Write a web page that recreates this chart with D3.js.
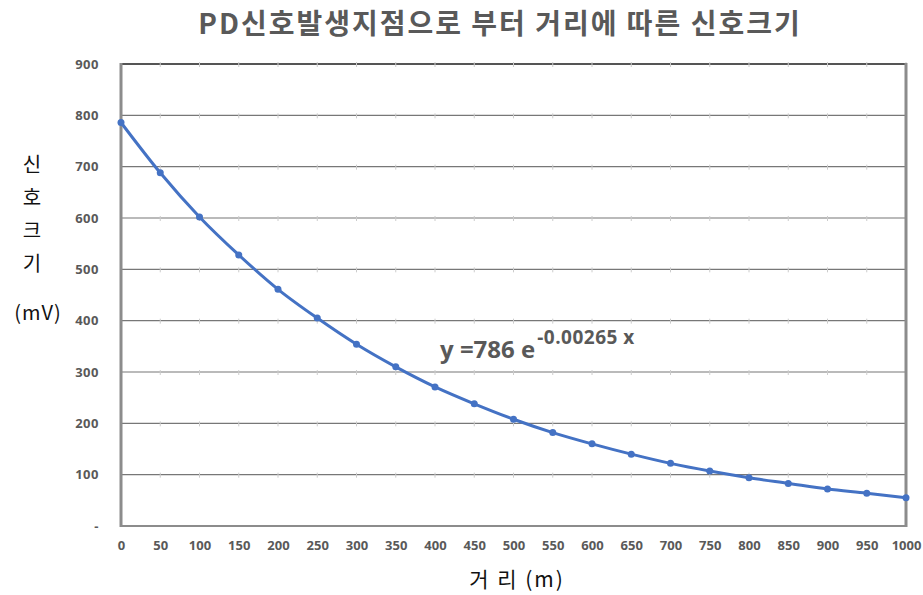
<!DOCTYPE html>
<html>
<head>
<meta charset="utf-8">
<script src="https://cdn.jsdelivr.net/npm/d3@7"></script>
<style>
  body { margin: 0; background: #fff; }
  text { font-family: "Noto Sans CJK KR", "Noto Sans", sans-serif; }
</style>
</head>
<body>
<div id="chart"></div>
<script>
// data
const distances = [0, 50, 100, 150, 200, 250, 300, 350, 400, 450, 500, 550, 600, 650, 700, 750, 800, 850, 900, 950, 1000];
const signal = [786, 688, 602, 528, 461, 405, 354, 310, 271, 238, 208, 182, 160, 140, 122, 107, 94, 83, 72, 64, 55];
const yTicks = [0, 100, 200, 300, 400, 500, 600, 700, 800, 900];

const chartWidth = 923;
const chartHeight = 595;
const margin = {top: 64, right: 17, bottom: 69, left: 121};
const grey = '#595959';

const svg = d3.select('#chart')
  .append('svg')
  .attr('width', chartWidth)
  .attr('height', chartHeight);

const x = d3.scaleLinear()
  .domain([0, 1000])
  .range([margin.left, chartWidth - margin.right]);

const y = d3.scaleLinear()
  .domain([0, 900])
  .range([chartHeight - margin.bottom, margin.top]);

//Gridlines
svg.append('g')
  .selectAll('line')
  .data(yTicks.slice(1))
  .enter()
  .append('line')
  .attr('x1', x(0))
  .attr('x2', x(1000))
  .attr('y1', d => y(d))
  .attr('y2', d => y(d))
  .attr('stroke', d => d === 900 ? '#555' : '#777')
  .attr('stroke-width', d => d === 900 ? 2 : 1.2);

//Small marks where categories cross gridlines
const marks = [];
yTicks.slice(1).forEach(v => distances.slice(1).forEach(d => marks.push([d, v])));
svg.append('g')
  .selectAll('line')
  .data(marks)
  .enter()
  .append('line')
  .attr('x1', d => x(d[0]))
  .attr('x2', d => x(d[0]))
  .attr('y1', d => y(d[1]) - 2)
  .attr('y2', d => y(d[1]) + 3)
  .attr('stroke', '#ccc')
  .attr('stroke-width', 1);

//Frame
svg.append('line')
  .attr('x1', x(0)).attr('x2', x(1000))
  .attr('y1', y(0)).attr('y2', y(0))
  .attr('stroke', '#8c8c8c').attr('stroke-width', 2);
svg.append('line')
  .attr('x1', x(0)).attr('x2', x(0))
  .attr('y1', y(900) - 1).attr('y2', y(0) + 1)
  .attr('stroke', '#8c8c8c').attr('stroke-width', 3);
svg.append('line')
  .attr('x1', x(1000)).attr('x2', x(1000))
  .attr('y1', y(900) - 1).attr('y2', y(0) + 1)
  .attr('stroke', '#8c8c8c').attr('stroke-width', 3);

//Axes
const yAxis = svg.append('g')
  .attr('transform', `translate(${x(0) - 19},0)`)
  .call(d3.axisLeft(y).tickValues(yTicks).tickSize(0).tickFormat(d => d === 0 ? '-' : d));
yAxis.select('.domain').remove();
yAxis.selectAll('text')
  .attr('fill', grey)
  .style('font-family', '"Open Sans", sans-serif')
  .style('font-weight', 'bold')
  .style('font-size', '13px')
  .style('letter-spacing', '0.5px');

const xAxis = svg.append('g')
  .attr('transform', `translate(0,${y(0) + 12})`)
  .call(d3.axisBottom(x).tickValues(distances).tickSize(0).tickFormat(d => d));
xAxis.select('.domain').remove();
xAxis.selectAll('text')
  .attr('fill', grey)
  .style('font-family', '"Open Sans", sans-serif')
  .style('font-weight', 'bold')
  .style('font-size', '13px');

//Line and markers
const line = d3.line()
  .x((d, i) => x(distances[i]))
  .y(d => y(d))
  .curve(d3.curveMonotoneX);

svg.append('path')
  .attr('d', line(signal))
  .attr('fill', 'none')
  .attr('stroke', '#4472C4')
  .attr('stroke-width', 3);

svg.append('g')
  .selectAll('circle')
  .data(signal)
  .enter()
  .append('circle')
  .attr('cx', (d, i) => x(distances[i]))
  .attr('cy', d => y(d))
  .attr('r', 3.5)
  .attr('fill', '#4472C4');

//Title
svg.append('text')
  .attr('x', 500)
  .attr('y', 34)
  .attr('text-anchor', 'middle')
  .attr('fill', grey)
  .style('font-weight', 'bold')
  .style('font-size', '28px')
  .style('letter-spacing', '2px')
  .text('PD신호발생지점으로 부터 거리에 따른 신호크기');

//Y axis title
svg.append('g')
  .selectAll('text')
  .data(['신', '호', '크', '기'])
  .enter()
  .append('text')
  .attr('x', 32)
  .attr('y', (d, i) => 172 + i * 33)
  .attr('text-anchor', 'middle')
  .attr('fill', '#111')
  .style('font-size', '20px')
  .text(d => d);

svg.append('text')
  .attr('x', 38)
  .attr('y', 320)
  .attr('text-anchor', 'middle')
  .attr('fill', '#111')
  .style('font-size', '20px')
  .style('letter-spacing', '1px')
  .text('(mV)');

//X axis title
svg.append('text')
  .attr('x', 517)
  .attr('y', 587)
  .attr('text-anchor', 'middle')
  .attr('fill', '#111')
  .style('font-size', '21px')
  .style('letter-spacing', '2px')
  .text('거 리 (m)');

//Trend equation
const eq = svg.append('text')
  .attr('x', 440)
  .attr('y', 358)
  .attr('fill', grey)
  .style('font-family', '"Open Sans", sans-serif')
  .style('font-weight', 'bold')
  .style('font-size', '24px');
eq.append('tspan').text('y =786 e');
eq.append('tspan')
  .attr('dy', -14)
  .attr('dx', 2)
  .style('font-size', '19px')
  .style('letter-spacing', '0.5px')
  .text('-0.00265 x');
</script>
</body>
</html>
